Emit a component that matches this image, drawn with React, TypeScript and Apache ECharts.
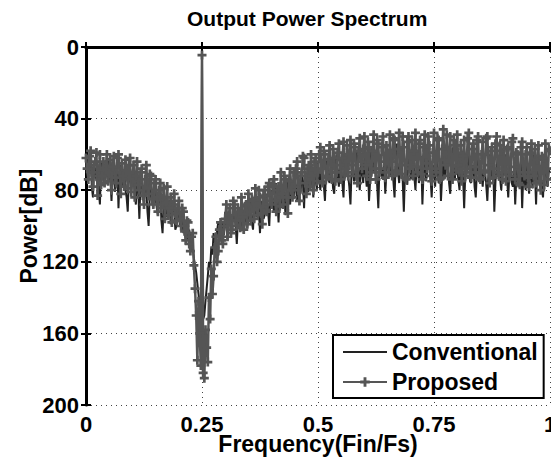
import React, { useEffect, useRef } from "react";
import * as echarts from "echarts";

const chartTitle = "Output Power Spectrum";
const xName = "Frequency(Fin/Fs)";
const yName = "Power[dB]";
const seriesNames = ["Conventional", "Proposed"];
const xTickStep = 0.25;
const yTickStep = 40;
const binStep = 0.0025; // FFT bin spacing (Fin/Fs)

// Power in dB per bin (axis drawn inverted, 0 at top)
const conventional = [
  66, 70, 74, 64, 62, 78, 84, 67, 68, 75, 72, 80, 88, 66, 64, 73, 76, 63, 70, 77,
  62, 74, 86, 68, 70, 81, 76, 65, 90, 72, 66, 78, 74, 69, 80, 84, 92, 71, 68, 79,
  76, 71, 82, 88, 70, 79, 96, 76, 74, 84, 86, 77, 80, 92, 100, 82, 76, 87, 90, 80,
  84, 90, 94, 83, 80, 97, 104, 88, 88, 95, 92, 86, 86, 99, 96, 90, 90, 102, 100, 94,
  92, 100, 98, 96, 104, 99, 100, 106, 108, 102, 106, 114, 112, 118, 122, 126, 132, 138, 145, 150,
  4.5, 152, 150, 142, 135, 128, 120, 124, 112, 116, 104, 110, 112, 103, 98, 108, 106, 97, 100, 105,
  92, 99, 108, 93, 96, 104, 102, 91, 94, 100, 110, 96, 90, 103, 98, 92, 104, 97, 88, 101,
  96, 89, 86, 98, 102, 88, 90, 95, 84, 91, 104, 86, 88, 96, 94, 85, 82, 92, 100, 84,
  80, 87, 92, 79, 76, 86, 98, 81, 84, 90, 78, 84, 94, 77, 74, 83, 88, 76, 80, 85,
  70, 79, 86, 73, 76, 82, 68, 75, 90, 70, 72, 81, 80, 69, 66, 77, 84, 68, 74, 80,
  64, 72, 80, 66, 70, 77, 86, 68, 62, 74, 76, 64, 68, 79, 82, 65, 60, 72, 78, 63,
  66, 76, 84, 63, 60, 70, 72, 78, 88, 67, 64, 75, 74, 62, 58, 71, 80, 65, 70, 76,
  62, 71, 78, 66, 86, 74, 56, 68, 70, 60, 64, 77, 90, 66, 60, 72, 74, 64, 82, 70,
  58, 68, 72, 61, 66, 75, 84, 64, 54, 70, 76, 62, 62, 74, 92, 70, 68, 77, 60, 66,
  74, 63, 56, 72, 80, 66, 64, 76, 70, 61, 88, 70, 58, 75, 72, 64, 62, 73, 84, 68,
  66, 78, 60, 70, 76, 63, 86, 72, 58, 74, 70, 62, 64, 76, 82, 66, 56, 71, 74, 64,
  68, 74, 80, 65, 62, 72, 90, 70, 72, 63, 58, 75, 76, 67, 66, 78, 84, 69, 60, 73,
  64, 71, 78, 66, 70, 77, 86, 69, 60, 72, 74, 64, 92, 75, 68, 61, 62, 74, 80, 68,
  72, 65, 60, 73, 84, 70, 66, 76, 78, 67, 88, 72, 62, 78, 70, 64, 90, 71, 74, 80,
  66, 75, 82, 68, 72, 79, 60, 70, 88, 66, 76, 72, 68, 80, 84, 67, 64, 76, 78, 69,
  70,
];

const proposed = [
  62, 68, 74, 61, 58, 70, 78, 66, 64, 59, 83, 72, 60, 77, 72, 64, 76, 68, 60, 75,
  70, 63, 80, 67, 61, 73, 76, 62, 60, 70, 82, 65, 72, 78, 63, 69, 79, 66, 62, 81,
  74, 66, 84, 72, 64, 77, 80, 70, 68, 83, 88, 74, 66, 79, 82, 71, 72, 85, 88, 76,
  74, 84, 92, 80, 76, 90, 88, 79, 96, 87, 78, 94, 90, 84, 98, 88, 82, 93, 97, 90,
  86, 96, 100, 90, 92, 103, 108, 97, 98, 110, 114, 106, 104, 122, 135, 150, 175, 142, 160, 178,
  4.5, 182, 185, 158, 168, 176, 140, 152, 124, 138, 128, 112, 106, 120, 114, 102, 98, 108, 110, 100,
  96, 88, 106, 94, 90, 104, 102, 86, 88, 97, 100, 90, 92, 101, 84, 95, 102, 89, 88, 99,
  82, 92, 97, 85, 86, 96, 79, 89, 94, 80, 84, 93, 99, 83, 80, 91, 92, 78, 76, 86,
  88, 77, 74, 86, 92, 80, 78, 89, 70, 82, 88, 72, 74, 84, 93, 75, 68, 80, 84, 70,
  78, 68, 64, 80, 86, 72, 70, 61, 62, 76, 82, 68, 66, 78, 60, 72, 80, 64, 62, 75,
  70, 60, 56, 68, 76, 58, 60, 73, 72, 63, 55, 70, 74, 57, 62, 75, 70, 59, 54, 66,
  74, 62, 53, 71, 68, 55, 72, 60, 52, 66, 70, 54, 56, 72, 76, 58, 51, 64, 68, 57,
  50, 66, 72, 53, 56, 74, 70, 58, 49, 68, 74, 52, 54, 70, 68, 56, 50, 64, 73, 55,
  60, 70, 49, 64, 72, 51, 52, 69, 70, 57, 48, 66, 71, 50, 56, 73, 74, 53, 50, 68,
  66, 52, 72, 58, 48, 67, 70, 54, 52, 71, 74, 56, 49, 65, 68, 50, 55, 72, 75, 59,
  48, 68, 70, 51, 52, 74, 73, 57, 46, 63, 66, 49, 72, 60, 50, 71, 74, 52, 55, 69,
  49, 66, 70, 55, 75, 61, 52, 72, 68, 51, 48, 70, 73, 57, 54, 67, 70, 52, 50, 73,
  74, 60, 53, 69, 70, 51, 50, 66, 76, 58, 56, 73, 68, 54, 50, 70, 72, 55, 58, 74,
  52, 68, 75, 57, 56, 72, 70, 53, 51, 67, 74, 59, 60, 76, 77, 56, 53, 70, 72, 60,
  56, 73, 78, 59, 54, 70, 72, 57, 76, 63, 55, 75, 80, 61, 62, 77, 54, 68, 74, 57,
  58,
];

const FONT = "'Liberation Sans', Arial, Helvetica, sans-serif";
const PLUS = "path://M3.5,0H6.5V3.5H10V6.5H6.5V10H3.5V6.5H0V3.5H3.5Z";

const toPairs = (vals: number[]) =>
  vals.map((v, i) => [Number((i * binStep).toFixed(5)), v]);

export default function App() {
  const ref = useRef<HTMLDivElement>(null);

  useEffect(() => {
    if (!ref.current) return;
    const chart = echarts.init(ref.current, undefined, { renderer: "svg" });
    const boldText = (size: number) => ({
      fontFamily: FONT,
      fontSize: size,
      fontWeight: "bold" as const,
      color: "#000",
    });
    const frameLine = { lineStyle: { color: "#000", width: 3 } };
    const tick = { inside: true, length: 5, lineStyle: { color: "#000", width: 2 } };
    const dotted = { show: true, lineStyle: { type: [1, 4], color: "#444", width: 1 } };

    chart.setOption({
      animation: false,
      backgroundColor: "#fff",
      title: {
        text: chartTitle,
        left: 187,
        top: 8,
        padding: 0,
        textStyle: boldText(21),
      },
      grid: { left: 86, top: 47, right: 1, bottom: 55, outerBoundsMode: "none", containLabel: false },
      legend: {
        orient: "vertical",
        left: 333,
        top: 335,
        data: [
          { name: seriesNames[0], itemStyle: { opacity: 0 } },
          { name: seriesNames[1] },
        ],
        itemWidth: 44,
        itemHeight: 12,
        itemGap: 4,
        itemTextGap: 5,
        padding: [4, 6, 3, 9],
        backgroundColor: "#fff",
        borderColor: "#000",
        borderWidth: 2,
        borderRadius: 0,
        textStyle: { ...boldText(23), lineHeight: 26 },
      },
      xAxis: [
        {
          type: "value",
          position: "bottom",
          min: 0,
          max: 1,
          interval: xTickStep,
          name: xName,
          nameLocation: "middle",
          nameGap: 27,
          nameMoveOverlap: false,
          nameTextStyle: boldText(23),
          axisLine: frameLine,
          axisTick: tick,
          axisLabel: { ...boldText(22), margin: 8 },
          splitLine: dotted,
        },
        {
          type: "value",
          position: "top",
          min: 0,
          max: 1,
          interval: xTickStep,
          axisLine: frameLine,
          axisTick: tick,
          axisLabel: { show: false },
          splitLine: { show: false },
        },
      ],
      yAxis: [
        {
          type: "value",
          position: "left",
          inverse: true,
          min: 0,
          max: 200,
          interval: yTickStep,
          name: yName,
          nameLocation: "middle",
          nameGap: 46,
          nameMoveOverlap: false,
          nameTextStyle: boldText(23),
          axisLine: frameLine,
          axisTick: tick,
          axisLabel: { ...boldText(22), margin: 7 },
          splitLine: dotted,
        },
        {
          type: "value",
          position: "right",
          inverse: true,
          min: 0,
          max: 200,
          interval: yTickStep,
          axisLine: { lineStyle: { color: "#000", width: 1 } },
          axisTick: tick,
          axisLabel: { show: false },
          splitLine: { show: false },
        },
      ],
      series: [
        {
          name: seriesNames[0],
          type: "line",
          data: toPairs(conventional),
          symbol: "none",
          showSymbol: false,
          lineStyle: { color: "#222", width: 2 },
          itemStyle: { color: "#222" },
          z: 2,
        },
        {
          name: seriesNames[1],
          type: "line",
          data: toPairs(proposed),
          symbol: PLUS,
          symbolSize: 9,
          showSymbol: true,
          lineStyle: { color: "#555", width: 2.5 },
          itemStyle: { color: "#555" },
          z: 3,
        },
      ],
    });
    return () => chart.dispose();
  }, []);

  return (
    <div
      ref={ref}
      style={{ position: "fixed", left: 0, top: 0, width: 551, height: 460 }}
    />
  );
}
